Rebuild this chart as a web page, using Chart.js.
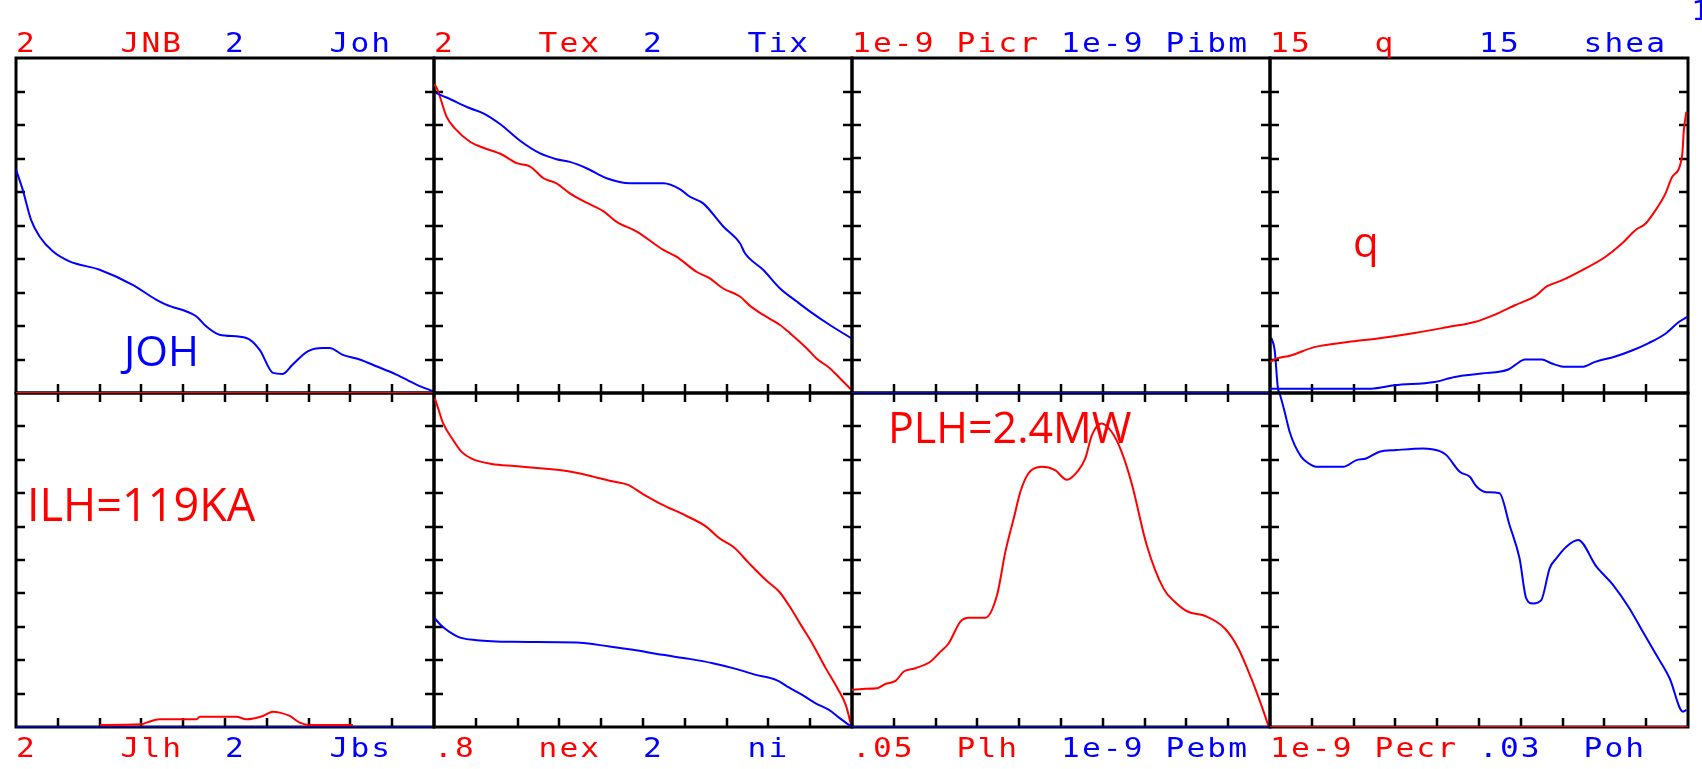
<!DOCTYPE html>
<html>
<head>
<meta charset="utf-8">
<title>Profiles</title>
<script src="https://cdn.jsdelivr.net/npm/chart.js@4"></script>
<style>
  html, body { margin: 0; padding: 0; background: #fff; }
  #page { position: relative; width: 1702px; height: 769px; overflow: hidden; background: #fff; }
  #page canvas { position: absolute; }
</style>
</head>
<body>
<div id="page"></div>
<script>
// profiles: [normalised radius, value], in the units of each panel's full scale
const jnb = [[0, 0], [1, 0]];
const joh = [[0, 1.334], [0.016, 1.214], [0.036, 1.034], [0.056, 0.936], [0.088, 0.846], [0.128, 0.786],
  [0.2, 0.736], [0.279, 0.646], [0.335, 0.558], [0.359, 0.528], [0.431, 0.458], [0.455, 0.398],
  [0.487, 0.348], [0.551, 0.328], [0.583, 0.258], [0.615, 0.12], [0.638, 0.114], [0.662, 0.17],
  [0.698, 0.248], [0.734, 0.268], [0.75, 0.268], [0.782, 0.228], [0.822, 0.2], [0.862, 0.16],
  [0.91, 0.11], [0.958, 0.05], [0.998, 0.01]];

const tex = [[0, 1.84], [0.005, 1.828], [0.014, 1.77], [0.03, 1.65], [0.05, 1.58], [0.086, 1.5], [0.118, 1.464],
  [0.162, 1.424], [0.198, 1.372], [0.23, 1.352], [0.262, 1.282], [0.293, 1.252], [0.325, 1.192],
  [0.365, 1.136], [0.405, 1.086], [0.437, 1.022], [0.485, 0.964], [0.549, 0.854], [0.58, 0.814],
  [0.628, 0.724], [0.66, 0.684], [0.692, 0.624], [0.732, 0.576], [0.756, 0.52], [0.788, 0.466],
  [0.828, 0.406], [0.852, 0.356], [0.892, 0.266], [0.915, 0.206], [0.947, 0.148], [0.971, 0.088],
  [0.999, 0.018]];
const tix = [[0.005, 1.79], [0.03, 1.764], [0.086, 1.7], [0.118, 1.67], [0.158, 1.606], [0.206, 1.506],
  [0.254, 1.43], [0.293, 1.396], [0.325, 1.38], [0.365, 1.342], [0.413, 1.282], [0.469, 1.252],
  [0.549, 1.252], [0.589, 1.216], [0.612, 1.172], [0.644, 1.132], [0.692, 0.994], [0.732, 0.894],
  [0.744, 0.834], [0.788, 0.734], [0.828, 0.624], [0.868, 0.546], [0.9, 0.486], [0.947, 0.406],
  [0.999, 0.326]];

const picr = [[0, 0], [1, 0]];
const pibm = [[0, 0], [1, 0]];

const q = [[0, 1.395], [0.014, 1.53], [0.05, 1.68], [0.106, 2.055], [0.186, 2.28], [0.266, 2.46],
  [0.346, 2.685], [0.426, 2.955], [0.49, 3.18], [0.538, 3.51], [0.586, 3.93], [0.634, 4.335],
  [0.662, 4.77], [0.698, 5.04], [0.746, 5.49], [0.802, 6.09], [0.842, 6.69], [0.874, 7.29],
  [0.898, 7.575], [0.922, 8.175], [0.946, 8.925], [0.962, 9.675], [0.986, 10.635], [0.99, 11.76],
  [0.996, 12.585]];
const shea = [[0, 0.195], [0.242, 0.195], [0.298, 0.345], [0.394, 0.495], [0.442, 0.72], [0.506, 0.87],
  [0.57, 1.05], [0.586, 1.245], [0.61, 1.5], [0.65, 1.5], [0.674, 1.32], [0.706, 1.17], [0.746, 1.17],
  [0.778, 1.395], [0.826, 1.635], [0.866, 1.905], [0.906, 2.235], [0.946, 2.655], [0.978, 3.18],
  [0.998, 3.405]];

const jlh = [[0.201, 0.012], [0.3, 0.016], [0.312, 0.026], [0.344, 0.046], [0.432, 0.046], [0.44, 0.062],
  [0.527, 0.062], [0.551, 0.046], [0.591, 0.066], [0.615, 0.092], [0.631, 0.086], [0.655, 0.066],
  [0.679, 0.026], [0.703, 0.012], [0.806, 0.012]];
const jbs = [[0, 0], [1, 0]];

const nex = [[0.002, 0.787], [0.01, 0.763], [0.022, 0.727], [0.046, 0.687], [0.066, 0.659], [0.09, 0.643],
  [0.138, 0.63], [0.193, 0.625], [0.261, 0.619], [0.317, 0.613], [0.372, 0.602], [0.42, 0.59],
  [0.464, 0.58], [0.5, 0.558], [0.547, 0.532], [0.603, 0.506], [0.651, 0.48], [0.683, 0.452],
  [0.718, 0.43], [0.754, 0.392], [0.794, 0.352], [0.826, 0.324], [0.854, 0.284], [0.878, 0.244],
  [0.905, 0.2], [0.937, 0.141], [0.965, 0.093], [0.985, 0.053], [0.998, 0.005]];
const ni = [[0.002, 0.65], [0.018, 0.606], [0.058, 0.54], [0.102, 0.52], [0.189, 0.51], [0.34, 0.506],
  [0.42, 0.482], [0.476, 0.462], [0.547, 0.432], [0.611, 0.408], [0.667, 0.382], [0.722, 0.348],
  [0.77, 0.312], [0.818, 0.282], [0.85, 0.236], [0.881, 0.192], [0.913, 0.142], [0.945, 0.102],
  [0.969, 0.056], [0.998, 0.002]];

const plh = [[0, 0.00555], [0.025, 0.0057], [0.06, 0.0058], [0.08, 0.00645], [0.104, 0.0069], [0.124, 0.0083],
  [0.152, 0.0088], [0.188, 0.0098], [0.208, 0.01105], [0.231, 0.0125], [0.259, 0.01575], [0.279, 0.01635],
  [0.319, 0.01635], [0.347, 0.01975], [0.367, 0.02625], [0.387, 0.03125], [0.403, 0.03525], [0.422, 0.03795],
  [0.454, 0.03895], [0.486, 0.03845], [0.514, 0.037], [0.542, 0.03845], [0.558, 0.0402], [0.574, 0.0437],
  [0.597, 0.04545], [0.621, 0.0442], [0.645, 0.0412], [0.669, 0.0365], [0.705, 0.02725], [0.745, 0.02075],
  [0.772, 0.01875], [0.804, 0.01725], [0.844, 0.01665], [0.892, 0.01475], [0.924, 0.0118], [0.955, 0.0073],
  [0.979, 0.0033], [0.997, 0.00005]];
const pebm = [[0, 0], [1, 0]];

const pecr = [[0, 0], [1, 0]];
const poh = [[0.003, 0.03495], [0.011, 0.0339], [0.019, 0.03042], [0.023, 0.02997], [0.035, 0.02832],
  [0.047, 0.02652], [0.059, 0.02532], [0.075, 0.02427], [0.087, 0.02382], [0.111, 0.02337], [0.175, 0.02337],
  [0.207, 0.02397], [0.23, 0.02412], [0.262, 0.02472], [0.302, 0.02487], [0.366, 0.02502], [0.406, 0.02478],
  [0.422, 0.02442], [0.454, 0.02292], [0.478, 0.02247], [0.494, 0.0216], [0.518, 0.02109], [0.549, 0.021],
  [0.573, 0.01815], [0.597, 0.01515], [0.613, 0.01155], [0.629, 0.0111], [0.649, 0.0114], [0.669, 0.01425],
  [0.685, 0.01515], [0.709, 0.0162], [0.737, 0.0168], [0.781, 0.0144], [0.821, 0.01275], [0.86, 0.01065],
  [0.892, 0.00855], [0.924, 0.00648], [0.956, 0.00438], [0.988, 0.00138], [0.996, 0.00153]];

// header / footer labels: [red scale, red name, blue scale, blue name]
const topLabels = [
  ["2", "JNB", "2", "Joh"],
  ["2", "Tex", "2", "Tix"],
  ["1e-9", "Picr", "1e-9", "Pibm"],
  ["15", "q", "15", "shea"]
];
const bottomLabels = [
  ["2", "Jlh", "2", "Jbs"],
  [".8", "nex", "2", "ni"],
  [".05", "Plh", "1e-9", "Pebm"],
  ["1e-9", "Pecr", ".03", "Poh"]
];
const cornerLabel = "1";

const profiles = { JNB: jnb, Joh: joh, Tex: tex, Tix: tix, Picr: picr, Pibm: pibm, q: q, shea: shea,
  Jlh: jlh, Jbs: jbs, nex: nex, ni: ni, Plh: plh, Pebm: pebm, Pecr: pecr, Poh: poh };

// big notes written on some panels, offsets from the panel's top-left corner
const notes = {
  "0-0": { text: "JOH", color: "#0000ff", dx: 108, dy: 308, size: 42 },
  "0-3": { text: "q", color: "#ff0000", dx: 83, dy: 199, size: 42 },
  "1-0": { text: "ILH=119KA", color: "#ff0000", dx: 11, dy: 128, size: 45 },
  "1-2": { text: "PLH=2.4MW", color: "#ff0000", dx: 36, dy: 50, size: 43 }
};

const RED = "#ff0000";
const BLUE = "#0000ff";
const PANEL_W = 418;
const ROW_TOP = [58, 393];
const ROW_H = [335, 334];
const LEFT0 = 16;
const PAD = { left: 30, right: 30, top: 70, bottom: 70 };
const TICK = 9;
const CHAR_W = PANEL_W / 20;
const LABEL_COLS = [0, 5, 10, 15];
const LABEL_COLORS = [RED, RED, BLUE, BLUE];

function drawMono(ctx, text, x, baseline, color) {
  ctx.fillStyle = color;
  ctx.font = "26px 'DejaVu Sans Mono'";
  ctx.textBaseline = "alphabetic";
  ctx.textAlign = "left";
  for (let i = 0; i < text.length; i++) {
    ctx.save();
    ctx.translate(x + i * CHAR_W, baseline);
    ctx.scale(1.2, 1);
    ctx.fillText(text[i], 0, 0);
    ctx.restore();
  }
}

const panelFrame = {
  id: "panelFrame",
  beforeDatasetsDraw(chart, args, opts) {
    const { ctx, chartArea: a, scales } = chart;
    ctx.save();
    ctx.strokeStyle = "#000";
    ctx.lineWidth = 3;
    ctx.strokeRect(a.left, a.top, a.width, a.height);
    ctx.lineWidth = 2.5;
    ctx.beginPath();
    for (let i = 1; i < 10; i++) {
      const x = Math.round(scales.x.getPixelForValue(i / 10));
      ctx.moveTo(x, a.bottom);
      ctx.lineTo(x, a.bottom - TICK);
      if (opts.row === 1) {
        ctx.moveTo(x, a.top);
        ctx.lineTo(x, a.top + TICK);
      }
      const y = Math.round(scales.yr.getPixelForValue(scales.yr.max * i / 10));
      ctx.moveTo(a.left, y);
      ctx.lineTo(a.left + TICK, y);
      ctx.moveTo(a.right, y);
      ctx.lineTo(a.right - TICK, y);
    }
    ctx.stroke();
    ctx.restore();
  },
  afterDatasetsDraw(chart, args, opts) {
    const { ctx, chartArea: a } = chart;
    ctx.save();
    const baseline = opts.row === 0 ? a.top - 6 : a.bottom + 30;
    opts.labels.forEach((t, k) => {
      drawMono(ctx, t, a.left + LABEL_COLS[k] * CHAR_W, baseline, LABEL_COLORS[k]);
    });
    if (opts.corner) drawMono(ctx, opts.corner, a.right + 3, a.top - 38, BLUE);
    const n = opts.note;
    if (n) {
      ctx.fillStyle = n.color;
      ctx.font = n.size + "px 'Open Sans'";
      ctx.textAlign = "left";
      ctx.textBaseline = "alphabetic";
      ctx.fillText(n.text, a.left + n.dx, a.top + n.dy);
    }
    ctx.restore();
  }
};

const page = document.getElementById("page");

function series(points, color, axis, clip) {
  return {
    data: points.map(([x, y]) => ({ x, y })),
    borderColor: color,
    borderWidth: 2,
    pointRadius: 0,
    cubicInterpolationMode: "monotone",
    yAxisID: axis,
    clip: clip ? undefined : false
  };
}

function renderPanel(row, col) {
  const labels = row === 0 ? topLabels[col] : bottomLabels[col];
  const w = PANEL_W, h = ROW_H[row];
  const canvas = document.createElement("canvas");
  canvas.width = w + PAD.left + PAD.right;
  canvas.height = h + PAD.top + PAD.bottom;
  canvas.style.left = (LEFT0 + col * PANEL_W - PAD.left) + "px";
  canvas.style.top = (ROW_TOP[row] - PAD.top) + "px";
  page.appendChild(canvas);

  const redName = labels[1], blueName = labels[3];
  new Chart(canvas, {
    type: "line",
    data: {
      datasets: [
        series(profiles[blueName], BLUE, "yb", blueName !== "Poh"),
        series(profiles[redName], RED, "yr", true)
      ]
    },
    options: {
      responsive: false,
      animation: false,
      events: [],
      layout: { padding: PAD },
      plugins: {
        legend: { display: false },
        tooltip: { enabled: false },
        panelFrame: {
          row,
          labels,
          note: notes[row + "-" + col],
          corner: row === 0 && col === 3 ? cornerLabel : null
        }
      },
      scales: {
        x: { type: "linear", min: 0, max: 1, display: false },
        yr: { type: "linear", min: 0, max: parseFloat(labels[0]), display: false },
        yb: { type: "linear", min: 0, max: parseFloat(labels[2]), display: false }
      }
    },
    plugins: [panelFrame]
  });
}

// bottom row first so the top row's zero lines sit above the shared border
for (let c = 0; c < 4; c++) renderPanel(1, c);
for (let c = 0; c < 4; c++) renderPanel(0, c);
</script>
</body>
</html>
